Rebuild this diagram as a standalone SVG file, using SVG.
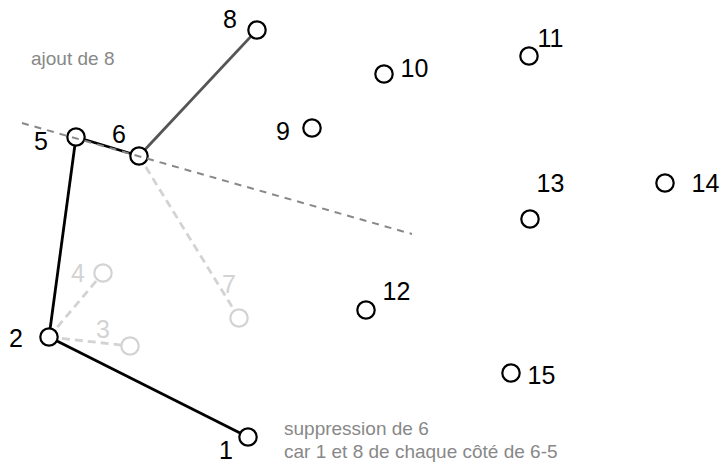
<svg xmlns="http://www.w3.org/2000/svg" width="724" height="463" viewBox="0 0 724 463">
<style>
.bg{fill:#ffffff}
.n circle{fill:#ffffff;stroke:#000000;stroke-width:2.2}
.n text{font-family:"Liberation Sans",Arial,sans-serif;font-size:25px;fill:#000000}
.g circle{fill:#ffffff;stroke:#d3d3d3;stroke-width:2.2}
.g text{font-family:"Liberation Sans",Arial,sans-serif;font-size:25px;fill:#d3d3d3}
.e{stroke:#000000;stroke-width:2.8;fill:none}
.e8{stroke:#555555;stroke-width:2.8;fill:none}
.eg{stroke:#d3d3d3;stroke-width:2.8;stroke-dasharray:8 5;fill:none}
.cut{stroke:#888888;stroke-width:2;stroke-dasharray:7 6;fill:none}
.note{font-family:"Liberation Sans",Arial,sans-serif;font-size:19px;fill:#888888}
</style>
<rect class="bg" x="0" y="0" width="724" height="463"/>
<g id="connectors">
<line class="e" x1="248" y1="437" x2="49" y2="337"/>
<line class="e" x1="49" y1="337" x2="76" y2="137"/>
<line class="e" x1="76" y1="137" x2="139" y2="156"/>
<line class="e8" x1="139" y1="156" x2="257" y2="30"/>
<line class="eg" x1="139" y1="156" x2="239" y2="318"/>
<line class="eg" x1="49" y1="337" x2="103" y2="273"/>
<line class="eg" x1="49" y1="337" x2="130" y2="346"/>
</g>
<g id="node3" class="g"><circle cx="130" cy="346" r="8.7"/><text x="96" y="338">3</text></g>
<g id="node4" class="g"><circle cx="103" cy="273" r="8.7"/><text x="71" y="282">4</text></g>
<g id="node7" class="g"><circle cx="239" cy="318" r="8.7"/><text x="222" y="293">7</text></g>
<g id="node1" class="n"><circle cx="248" cy="437" r="8.7"/><text x="219" y="459">1</text></g>
<g id="node2" class="n"><circle cx="49" cy="337" r="8.7"/><text x="9" y="347">2</text></g>
<g id="node5" class="n"><circle cx="76" cy="137" r="8.7"/><text x="34" y="150">5</text></g>
<g id="node6" class="n"><circle cx="139" cy="156" r="8.7"/><text x="112" y="143">6</text></g>
<g id="node8" class="n"><circle cx="257" cy="30" r="8.7"/><text x="223" y="28">8</text></g>
<g id="node9" class="n"><circle cx="312" cy="128" r="8.7"/><text x="276" y="140">9</text></g>
<g id="node10" class="n"><circle cx="384" cy="74" r="8.7"/><text x="400.5" y="77">10</text></g>
<g id="node11" class="n"><circle cx="529" cy="56" r="8.7"/><text x="537.5" y="47">11</text></g>
<g id="node12" class="n"><circle cx="366" cy="310" r="8.7"/><text x="382.5" y="300">12</text></g>
<g id="node13" class="n"><circle cx="530" cy="219" r="8.7"/><text x="536.5" y="192">13</text></g>
<g id="node14" class="n"><circle cx="665" cy="183" r="8.7"/><text x="691.5" y="192">14</text></g>
<g id="node15" class="n"><circle cx="511" cy="373" r="8.7"/><text x="527.5" y="384">15</text></g>
<g id="cutline"><line class="cut" x1="22" y1="123" x2="412" y2="234"/></g>
<g id="notes">
<text class="note" x="31" y="65">ajout de 8</text>
<text class="note" x="284" y="435">suppression de 6</text>
<text class="note" x="284" y="458">car 1 et 8 de chaque côté de 6-5</text>
</g>
</svg>
